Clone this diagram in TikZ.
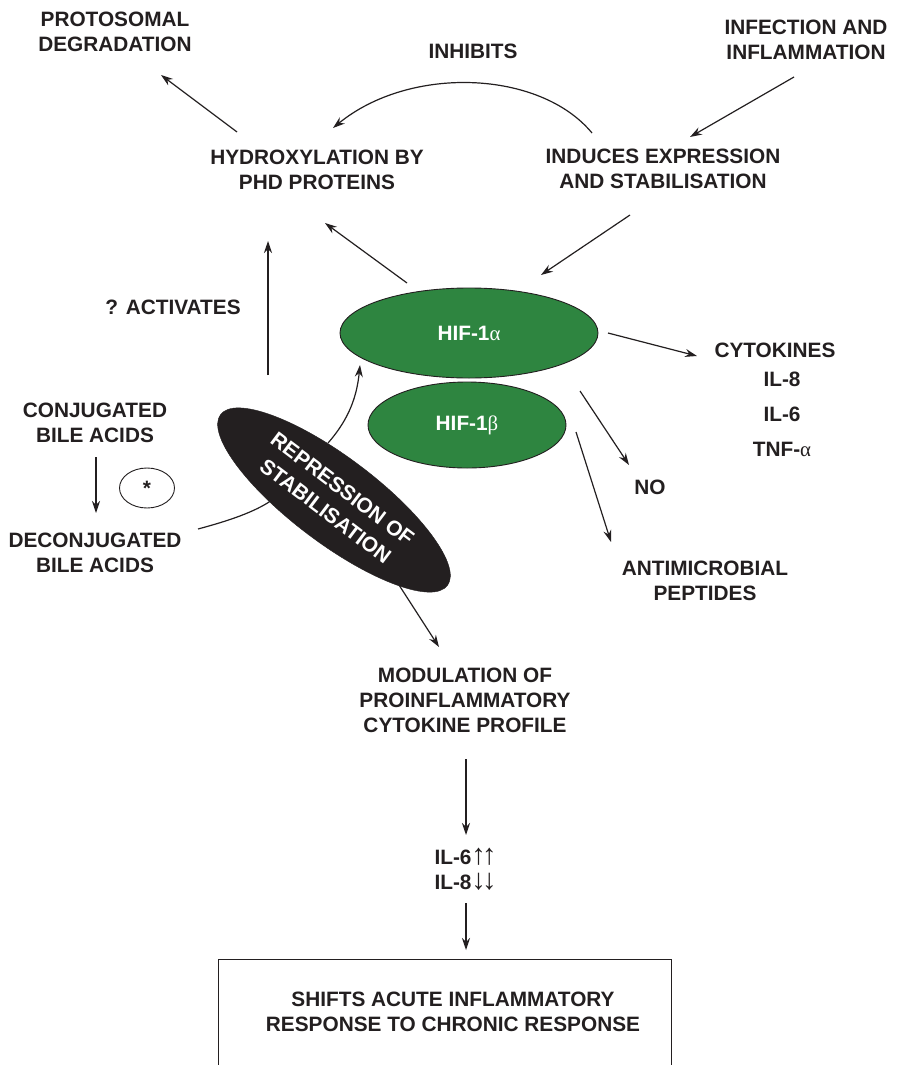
\documentclass[tikz,border=0pt]{standalone}
\usepackage{fontspec}
\setmainfont{Liberation Sans}
\newfontfamily\greekf{Liberation Serif}
\usetikzlibrary{arrows.meta,shapes.geometric}
\definecolor{ink}{HTML}{231F20}
\definecolor{hifgreen}{HTML}{2E8540}
\newcommand{\updn}[1]{{\mdseries\fontsize{29}{25}\selectfont #1}}
\begin{document}
\begin{tikzpicture}[x=1pt,y=-1pt,
  lbl/.style={font=\bfseries\fontsize{20.8}{25}\selectfont, text=ink, align=center, inner sep=0pt},
  arr/.style={draw=ink, line width=1.2pt, -{Stealth[length=12pt,width=8pt,inset=4pt]}},
  ln/.style={draw=ink, line width=1.2pt},
  hif/.style={ellipse, draw=ink, line width=0.9pt, fill=hifgreen, inner sep=0pt, text=white,
              font=\bfseries\fontsize{20.8}{25}\selectfont},
]
\useasboundingbox[fill=white] (0,0) rectangle (898,1065);

% text nodes
\node[lbl] (prot) at (115,31.6) {PROTOSOMAL\\DEGRADATION};
\node[lbl] (inh) at (473,51) {INHIBITS};
\node[lbl] (inf) at (806,40) {INFECTION AND\\INFLAMMATION};
\node[lbl] (hyd) at (317,170) {HYDROXYLATION BY\\PHD PROTEINS};
\node[lbl] (ind) at (663,169) {INDUCES EXPRESSION\\AND STABILISATION};
\node[lbl] (act) at (173,307.6) {? ACTIVATES};
\node[lbl] (conj) at (95,422.7) {CONJUGATED\\BILE ACIDS};
\node[lbl] (deconj) at (95,553) {DECONJUGATED\\BILE ACIDS};
\node[ellipse, draw=ink, line width=0.9pt, minimum width=55pt, minimum height=40pt, inner sep=0pt,
      font=\bfseries\fontsize{20.8}{25}\selectfont, text=ink] (enz) at (147,488) {*};
\node[lbl] (cyto) at (775,350.6) {CYTOKINES};
\node[lbl] (il8) at (782,379.6) {IL-8};
\node[lbl] (il6) at (782,414.6) {IL-6};
\node[lbl] (tnf) at (782,449.6) {TNF-{\greekf\mdseries α}};
\node[lbl] (no) at (650,487.6) {NO};
\node[lbl] (amp) at (705,581) {ANTIMICROBIAL\\PEPTIDES};
\node[lbl] (mod) at (465,700.7) {MODULATION OF\\PROINFLAMMATORY\\CYTOKINE PROFILE};
\node[lbl, text depth=0pt] (il6u) at (465.5,856) {IL-6\updn{↑\kern-4pt↑}};
\node[lbl, text depth=0pt] (il8d) at (465.5,881) {IL-8\updn{↓\kern-4pt↓}};
\node[lbl] (shift) at (453,1012) {SHIFTS ACUTE INFLAMMATORY\\RESPONSE TO CHRONIC RESPONSE};
\draw[ln, line width=1pt] (218,1065) |- (671,959) -- (671,1065);

% ellipses
\node[hif, minimum width=258pt, minimum height=90pt] (hifa) at (469,333) {HIF-1{\greekf\mdseries α}};
\node[hif, minimum width=198pt, minimum height=86pt] (hifb) at (467,425) {HIF-1{\greekf\mdseries β}};
\node[ellipse, fill=ink, draw=ink, minimum width=284pt, minimum height=86pt, inner sep=0pt,
      rotate=-37, text=white, align=center, font=\bfseries\fontsize{21}{28}\selectfont]
      (rep) at (334,500) {REPRESSION OF\\STABILISATION};

% connector end points
\coordinate (hydout) at (237,132);  \coordinate (protin) at (161,75);
\coordinate (indout) at (592,133);  \coordinate (hydin) at (333,128);
\coordinate (infout) at (794,77);   \coordinate (indin) at (690,137);
\coordinate (hifaup) at (407,283);  \coordinate (hydin2) at (325,223);
\coordinate (inddown) at (630,215); \coordinate (hifain) at (541,275);
\coordinate (actlow) at (268,375);  \coordinate (acttop) at (268,241);
\coordinate (repout) at (328,443);  \coordinate (hifain2) at (360,365);
\coordinate (deconjout) at (198,529); \coordinate (repin) at (272,500);
\coordinate (conjout) at (96,457);  \coordinate (deconjin) at (96,513);
\coordinate (repdown) at (399,585); \coordinate (modin) at (439,647);
\coordinate (modout) at (466,759);  \coordinate (ilsin) at (466,835);
\coordinate (ilsout) at (466,903);  \coordinate (boxin) at (466,950);
\coordinate (hifaright) at (608,333); \coordinate (cytoin) at (697,356);
\coordinate (cplxno) at (580,391);  \coordinate (noin) at (629,465);
\coordinate (cplxamp) at (576,432); \coordinate (ampin) at (611,542);

% connectors
\draw[arr] (hydout) -- (protin);
\draw[arr] (indout) .. controls (540,70) and (410,65) .. (hydin);
\draw[arr] (infout) -- (indin);
\draw[arr] (hifaup) -- (hydin2);
\draw[arr] (inddown) -- (hifain);
\draw[arr] (actlow) -- (acttop);
\draw[arr] (repout) .. controls (350,418) and (357,395) .. (hifain2);
\draw[ln] (deconjout) .. controls (228,521) and (255,512) .. (repin);
\draw[arr] (conjout) -- (deconjin);
\draw[arr] (repdown) -- (modin);
\draw[arr] (modout) -- (ilsin);
\draw[arr] (ilsout) -- (boxin);
\draw[arr] (hifaright) -- (cytoin);
\draw[arr] (cplxno) -- (noin);
\draw[arr] (cplxamp) -- (ampin);
\end{tikzpicture}
\end{document}
